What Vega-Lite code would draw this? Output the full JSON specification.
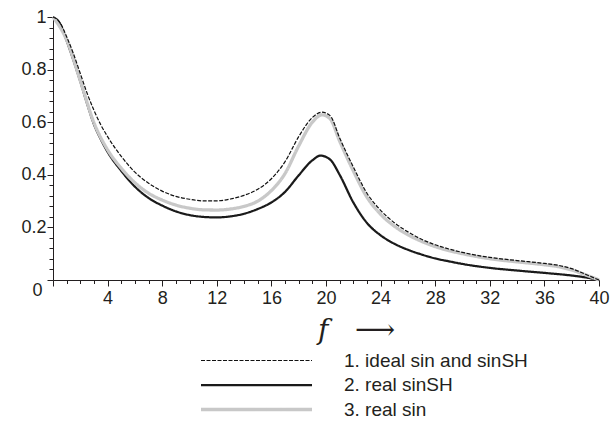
{
  "$schema": "https://vega.github.io/schema/vega-lite/v6.json",
  "width": 546,
  "height": 263,
  "autosize": "none",
  "padding": {"left": 53, "top": 17, "right": 12, "bottom": 143},
  "background": "white",
  "config": {"view": {"stroke": null}, "font": "Liberation Sans"},
  "data": {"values": [
    {"f":0,"v":1.0,"s":"1. ideal sin and sinSH"},
    {"f":0.5,"v":0.98,"s":"1. ideal sin and sinSH"},
    {"f":1,"v":0.925,"s":"1. ideal sin and sinSH"},
    {"f":1.5,"v":0.86,"s":"1. ideal sin and sinSH"},
    {"f":2,"v":0.785,"s":"1. ideal sin and sinSH"},
    {"f":2.5,"v":0.71,"s":"1. ideal sin and sinSH"},
    {"f":3,"v":0.645,"s":"1. ideal sin and sinSH"},
    {"f":3.5,"v":0.59,"s":"1. ideal sin and sinSH"},
    {"f":4,"v":0.545,"s":"1. ideal sin and sinSH"},
    {"f":5,"v":0.47,"s":"1. ideal sin and sinSH"},
    {"f":6,"v":0.41,"s":"1. ideal sin and sinSH"},
    {"f":7,"v":0.368,"s":"1. ideal sin and sinSH"},
    {"f":8,"v":0.338,"s":"1. ideal sin and sinSH"},
    {"f":9,"v":0.318,"s":"1. ideal sin and sinSH"},
    {"f":10,"v":0.307,"s":"1. ideal sin and sinSH"},
    {"f":11,"v":0.301,"s":"1. ideal sin and sinSH"},
    {"f":12,"v":0.301,"s":"1. ideal sin and sinSH"},
    {"f":13,"v":0.308,"s":"1. ideal sin and sinSH"},
    {"f":14,"v":0.322,"s":"1. ideal sin and sinSH"},
    {"f":15,"v":0.345,"s":"1. ideal sin and sinSH"},
    {"f":16,"v":0.385,"s":"1. ideal sin and sinSH"},
    {"f":17,"v":0.45,"s":"1. ideal sin and sinSH"},
    {"f":18,"v":0.545,"s":"1. ideal sin and sinSH"},
    {"f":19,"v":0.618,"s":"1. ideal sin and sinSH"},
    {"f":19.7,"v":0.638,"s":"1. ideal sin and sinSH"},
    {"f":20.3,"v":0.625,"s":"1. ideal sin and sinSH"},
    {"f":21,"v":0.54,"s":"1. ideal sin and sinSH"},
    {"f":22,"v":0.43,"s":"1. ideal sin and sinSH"},
    {"f":23,"v":0.33,"s":"1. ideal sin and sinSH"},
    {"f":24,"v":0.265,"s":"1. ideal sin and sinSH"},
    {"f":25,"v":0.218,"s":"1. ideal sin and sinSH"},
    {"f":26,"v":0.183,"s":"1. ideal sin and sinSH"},
    {"f":27,"v":0.155,"s":"1. ideal sin and sinSH"},
    {"f":28,"v":0.134,"s":"1. ideal sin and sinSH"},
    {"f":29,"v":0.118,"s":"1. ideal sin and sinSH"},
    {"f":30,"v":0.105,"s":"1. ideal sin and sinSH"},
    {"f":32,"v":0.086,"s":"1. ideal sin and sinSH"},
    {"f":34,"v":0.074,"s":"1. ideal sin and sinSH"},
    {"f":36,"v":0.063,"s":"1. ideal sin and sinSH"},
    {"f":37,"v":0.056,"s":"1. ideal sin and sinSH"},
    {"f":38,"v":0.043,"s":"1. ideal sin and sinSH"},
    {"f":39,"v":0.022,"s":"1. ideal sin and sinSH"},
    {"f":40,"v":0.0,"s":"1. ideal sin and sinSH"},
    {"f":0,"v":1.0,"s":"2. real sinSH"},
    {"f":0.5,"v":0.975,"s":"2. real sinSH"},
    {"f":1,"v":0.91,"s":"2. real sinSH"},
    {"f":1.5,"v":0.835,"s":"2. real sinSH"},
    {"f":2,"v":0.755,"s":"2. real sinSH"},
    {"f":2.5,"v":0.67,"s":"2. real sinSH"},
    {"f":3,"v":0.592,"s":"2. real sinSH"},
    {"f":3.5,"v":0.535,"s":"2. real sinSH"},
    {"f":4,"v":0.487,"s":"2. real sinSH"},
    {"f":5,"v":0.415,"s":"2. real sinSH"},
    {"f":6,"v":0.355,"s":"2. real sinSH"},
    {"f":7,"v":0.312,"s":"2. real sinSH"},
    {"f":8,"v":0.283,"s":"2. real sinSH"},
    {"f":9,"v":0.261,"s":"2. real sinSH"},
    {"f":10,"v":0.247,"s":"2. real sinSH"},
    {"f":11,"v":0.24,"s":"2. real sinSH"},
    {"f":12,"v":0.238,"s":"2. real sinSH"},
    {"f":13,"v":0.242,"s":"2. real sinSH"},
    {"f":14,"v":0.252,"s":"2. real sinSH"},
    {"f":15,"v":0.27,"s":"2. real sinSH"},
    {"f":16,"v":0.295,"s":"2. real sinSH"},
    {"f":17,"v":0.335,"s":"2. real sinSH"},
    {"f":18,"v":0.398,"s":"2. real sinSH"},
    {"f":19,"v":0.455,"s":"2. real sinSH"},
    {"f":19.6,"v":0.473,"s":"2. real sinSH"},
    {"f":20.3,"v":0.458,"s":"2. real sinSH"},
    {"f":21,"v":0.4,"s":"2. real sinSH"},
    {"f":22,"v":0.295,"s":"2. real sinSH"},
    {"f":23,"v":0.217,"s":"2. real sinSH"},
    {"f":24,"v":0.17,"s":"2. real sinSH"},
    {"f":25,"v":0.138,"s":"2. real sinSH"},
    {"f":26,"v":0.115,"s":"2. real sinSH"},
    {"f":27,"v":0.097,"s":"2. real sinSH"},
    {"f":28,"v":0.082,"s":"2. real sinSH"},
    {"f":29,"v":0.071,"s":"2. real sinSH"},
    {"f":30,"v":0.061,"s":"2. real sinSH"},
    {"f":32,"v":0.046,"s":"2. real sinSH"},
    {"f":34,"v":0.036,"s":"2. real sinSH"},
    {"f":36,"v":0.027,"s":"2. real sinSH"},
    {"f":38,"v":0.017,"s":"2. real sinSH"},
    {"f":39,"v":0.01,"s":"2. real sinSH"},
    {"f":40,"v":0.0,"s":"2. real sinSH"},
    {"f":0,"v":1.0,"s":"3. real sin"},
    {"f":1,"v":0.913,"s":"3. real sin"},
    {"f":2,"v":0.758,"s":"3. real sin"},
    {"f":3,"v":0.598,"s":"3. real sin"},
    {"f":4,"v":0.495,"s":"3. real sin"},
    {"f":5,"v":0.425,"s":"3. real sin"},
    {"f":6,"v":0.37,"s":"3. real sin"},
    {"f":7,"v":0.33,"s":"3. real sin"},
    {"f":8,"v":0.304,"s":"3. real sin"},
    {"f":9,"v":0.285,"s":"3. real sin"},
    {"f":10,"v":0.273,"s":"3. real sin"},
    {"f":11,"v":0.267,"s":"3. real sin"},
    {"f":12,"v":0.266,"s":"3. real sin"},
    {"f":13,"v":0.27,"s":"3. real sin"},
    {"f":14,"v":0.28,"s":"3. real sin"},
    {"f":15,"v":0.3,"s":"3. real sin"},
    {"f":16,"v":0.34,"s":"3. real sin"},
    {"f":17,"v":0.405,"s":"3. real sin"},
    {"f":18,"v":0.51,"s":"3. real sin"},
    {"f":19,"v":0.6,"s":"3. real sin"},
    {"f":19.7,"v":0.628,"s":"3. real sin"},
    {"f":20.3,"v":0.613,"s":"3. real sin"},
    {"f":21,"v":0.528,"s":"3. real sin"},
    {"f":22,"v":0.415,"s":"3. real sin"},
    {"f":23,"v":0.315,"s":"3. real sin"},
    {"f":24,"v":0.25,"s":"3. real sin"},
    {"f":25,"v":0.205,"s":"3. real sin"},
    {"f":26,"v":0.172,"s":"3. real sin"},
    {"f":27,"v":0.147,"s":"3. real sin"},
    {"f":28,"v":0.127,"s":"3. real sin"},
    {"f":29,"v":0.112,"s":"3. real sin"},
    {"f":30,"v":0.1,"s":"3. real sin"},
    {"f":32,"v":0.081,"s":"3. real sin"},
    {"f":34,"v":0.069,"s":"3. real sin"},
    {"f":36,"v":0.058,"s":"3. real sin"},
    {"f":37,"v":0.051,"s":"3. real sin"},
    {"f":38,"v":0.038,"s":"3. real sin"},
    {"f":39,"v":0.02,"s":"3. real sin"},
    {"f":40,"v":0.0,"s":"3. real sin"}
  ]},
  "encoding": {
    "x": {
      "field": "f", "type": "quantitative",
      "scale": {"domain": [0, 40], "nice": false},
      "axis": {
        "values": [0,1,2,3,4,5,6,7,8,9,10,11,12,13,14,15,16,17,18,19,20,21,22,23,24,25,26,27,28,29,30,31,32,33,34,35,36,37,38,39,40],
        "labelExpr": "datum.value % 4 === 0 && datum.value > 0 ? datum.label : ''",
        "labelOverlap": false,
        "labelFontSize": 18,
        "labelColor": "#231f20",
        "labelPadding": 3,
        "labelFlush": false,
        "tickSize": {"condition": {"test": "datum.value % 4 === 0", "value": 6}, "value": 3.5},
        "tickColor": "#231f20",
        "domainColor": "#231f20",
        "grid": false,
        "title": "f\u00a0\u00a0\u00a0⟶",
        "titleFont": "DejaVu Serif",
        "titleFontStyle": "italic",
        "titleFontWeight": "normal",
        "titleFontSize": 28,
        "titleColor": "#231f20",
        "titleX": 303,
        "titleY": 58,
        "titleBaseline": "alphabetic",
        "titleAlign": "center"
      }
    },
    "y": {
      "field": "v", "type": "quantitative",
      "scale": {"domain": [0, 1], "nice": false},
      "axis": {
        "values": [0,0.04,0.08,0.12,0.16,0.2,0.24,0.28,0.32,0.36,0.4,0.44,0.48,0.52,0.56,0.6,0.64,0.68,0.72,0.76,0.8,0.84,0.88,0.92,0.96,1],
        "format": ".1~f",
        "labelExpr": "round(datum.value * 100) % 20 === 0 ? datum.label : ''",
        "labelOverlap": false,
        "labelFontSize": 18,
        "labelColor": "#231f20",
        "labelPadding": {"condition": {"test": "datum.value === 0", "value": 5}, "value": 1},
        "labelOffset": {"condition": {"test": "datum.value === 0", "value": 10}, "value": 0},
        "labelFlush": false,
        "tickSize": {"condition": {"test": "round(datum.value * 100) % 20 === 0", "value": 6}, "value": 4},
        "tickColor": "#231f20",
        "domainColor": "#231f20",
        "grid": false,
        "title": null
      }
    },
    "color": {
      "field": "s", "type": "nominal",
      "scale": {"domain": ["1. ideal sin and sinSH", "2. real sinSH", "3. real sin"], "range": ["#111111", "#1a1a1a", "#c8c8c8"]},
      "legend": {
        "orient": "none",
        "legendX": 146,
        "legendY": 333.5,
        "title": null,
        "padding": 0,
        "symbolType": "stroke",
        "symbolSize": 12321,
        "clipHeight": 20,
        "labelFontSize": 19,
        "labelColor": "#231f20",
        "labelOffset": 30,
        "rowPadding": 4.5,
        "labelLimit": 400
      }
    },
    "strokeDash": {
      "field": "s", "type": "nominal",
      "scale": {"domain": ["1. ideal sin and sinSH", "2. real sinSH", "3. real sin"], "range": [[4, 1.5], [1, 0], [1, 0]]}
    },
    "strokeWidth": {
      "field": "s", "type": "nominal",
      "scale": {"domain": ["1. ideal sin and sinSH", "2. real sinSH", "3. real sin"], "range": [1.2, 3.3, 3]}
    }
  },
  "layer": [
    {"transform": [{"filter": "datum.s === '2. real sinSH'"}], "mark": {"type": "line", "interpolate": "monotone"}},
    {"transform": [{"filter": "datum.s === '3. real sin'"}], "mark": {"type": "line", "interpolate": "monotone"}},
    {"transform": [{"filter": "datum.s === '1. ideal sin and sinSH'"}], "mark": {"type": "line", "interpolate": "monotone"}}
  ]
}
